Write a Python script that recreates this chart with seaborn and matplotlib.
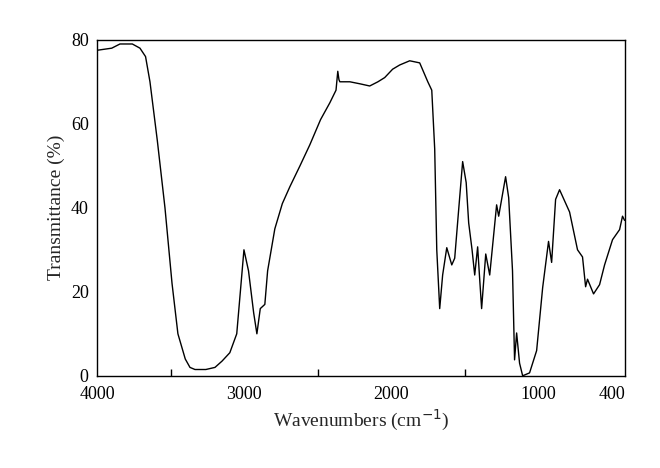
import numpy as np
import pandas as pd
import seaborn as sns
import matplotlib
matplotlib.use("Agg")
import matplotlib.pyplot as plt

wavenumber = [4000, 3900, 3844, 3760, 3708, 3670, 3640, 3590, 3538, 3490, 3450, 3400, 3368, 3334, 3260, 3198,
              3150, 3097, 3050, 3001, 2970, 2935, 2913, 2890, 2859, 2840, 2791, 2740, 2689, 2620, 2553, 2480, 2417,
              2375, 2363, 2355, 2349, 2320, 2281, 2210, 2146, 2090, 2044, 1990, 1942, 1874, 1806, 1751, 1724,
              1704, 1690, 1670, 1650, 1622, 1588, 1568, 1540, 1514, 1490, 1473, 1450, 1432, 1412, 1400, 1385, 1357,
              1330, 1283, 1269, 1222, 1201, 1175, 1161, 1147, 1127, 1106, 1059, 1011, 970, 930, 909, 882, 855,
              787, 733, 699, 678, 665, 624, 583, 549, 495, 447, 427, 413]
transmittance = [77.5, 78.0, 79.0, 79.0, 78.0, 76.0, 70.0, 56.0, 40.0, 22.0, 10.0, 4.0, 2.0, 1.5, 1.5, 2.0,
                 3.5, 5.5, 10.0, 30.0, 25.0, 15.0, 10.0, 16.0, 17.0, 25.0, 35.0, 41.0, 45.0, 50.0, 55.0, 61.0, 65.0,
                 68.0, 72.5, 70.5, 70.0, 70.0, 70.0, 69.5, 69.0, 70.0, 71.0, 73.0, 74.0, 75.0, 74.5, 70.0, 68.0,
                 54.0, 30.0, 16.0, 24.0, 30.5, 26.4, 28.0, 40.0, 51.0, 46.0, 36.4, 30.0, 24.0, 30.7, 24.0, 16.0, 29.0,
                 24.0, 40.7, 38.0, 47.4, 42.4, 25.0, 3.8, 10.2, 3.0, 0.0, 0.7, 6.0, 21.0, 32.0, 27.0, 42.0, 44.3,
                 39.0, 30.0, 28.3, 21.2, 23.0, 19.5, 21.7, 26.4, 32.4, 34.8, 38.0, 37.0]

df = pd.DataFrame({"w": wavenumber, "t": transmittance})

sns.set_theme(style="white")
plt.rcParams['font.family'] = ['Liberation Serif', 'DejaVu Serif']

fig = plt.figure(figsize=(6.6, 4.68), dpi=100)
ax = fig.add_axes([0.147, 0.197, 0.8, 0.718])
sns.lineplot(data=df, x="w", y="t", ax=ax, color="black", linewidth=1.0, sort=False)
ax.set_xlim(4000, 410)
ax.set_ylim(0, 80)
ax.set_xticks([4000, 3000, 2000, 1000, 500])
ax.set_xticklabels(["4000", "3000", "2000", "1000", "400"])
ax.set_xticks([3500, 2500, 1500], minor=True)
ax.set_yticks([0, 20, 40, 60, 80])
ax.tick_params(axis="both", which="both", direction="in", labelsize=13, colors="black")
ax.tick_params(which="major", length=5)
ax.tick_params(which="minor", length=5, bottom=True)
ax.tick_params(axis="x", pad=7)
ax.tick_params(axis="y", pad=6)
for s in ax.spines.values():
    s.set_color("black")
    s.set_linewidth(1.0)
ax.set_xlabel("Wavenumbers (cm$^{-1}$)", fontsize=14)
ax.set_ylabel("Transmittance (%)", fontsize=14)
fig.savefig("out.png", dpi=100)
